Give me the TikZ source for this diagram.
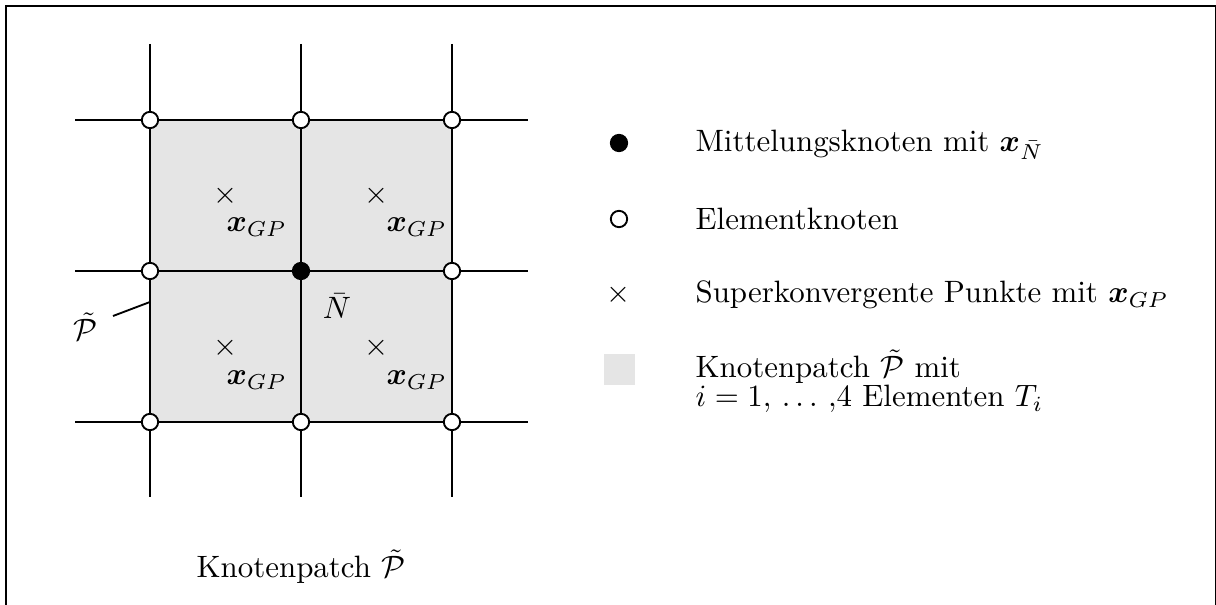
\documentclass[tikz,border=0pt]{standalone}
\usepackage{amsmath,bm}
\begin{document}
\begin{tikzpicture}[x=0.3236pt,y=-0.3236pt,
  gridline/.style={line width=0.6pt},
  enode/.style={circle,draw,fill=white,line width=0.6pt,inner sep=0pt,minimum size=5.3pt},
  mnode/.style={circle,draw,fill=black,line width=0.6pt,inner sep=0pt,minimum size=5.3pt},
  patch/.style={fill=black!10},
  gpmark/.style={inner sep=0pt},
  lbl/.style={inner sep=0pt}
]
\useasboundingbox (0,0) rectangle (1216,605);
% frame
\draw[line width=0.65pt] (6,700) -- (6,6) -- (1216,6) -- (1216,700);

% patch of four elements
\fill[patch] (150,120) rectangle (452,422);

% mesh lines
\foreach \x in {150,301,452} \draw[gridline] (\x,44) -- (\x,497);
\foreach \y in {120,271,422} \draw[gridline] (75,\y) -- (528,\y);

% element nodes
\node[enode] (n11) at (150,120) {};
\node[enode] (n21) at (301,120) {};
\node[enode] (n31) at (452,120) {};
\node[enode] (n12) at (150,271) {};
\node[enode] (n32) at (452,271) {};
\node[enode] (n13) at (150,422) {};
\node[enode] (n23) at (301,422) {};
\node[enode] (n33) at (452,422) {};
% averaging node
\node[mnode] (nbar) at (301,271) {};
\node[lbl,anchor=base] (nbarlbl) at (337,319) {$\bar{N}$};

% superconvergent points
\node[gpmark] (gp1) at (226,196) {$\times$};
\node[gpmark] (gp2) at (377,196) {$\times$};
\node[gpmark] (gp3) at (226,348) {$\times$};
\node[gpmark] (gp4) at (377,348) {$\times$};
\node[lbl,anchor=base west] (gpl1) at (226,232) {$\bm{x}_{GP}$};
\node[lbl,anchor=base west] (gpl2) at (386,232) {$\bm{x}_{GP}$};
\node[lbl,anchor=base west] (gpl3) at (226,385) {$\bm{x}_{GP}$};
\node[lbl,anchor=base west] (gpl4) at (386,385) {$\bm{x}_{GP}$};

% patch label with pointer
\node[lbl,anchor=base] (plbl) at (86,341) {$\tilde{\mathcal{P}}$};
\coordinate (ps) at (113,316);
\coordinate (pe) at (150,302);
\draw[gridline] (ps) -- (pe);

% caption
\node[lbl,anchor=base] (cap) at (301,578) {Knotenpatch $\tilde{\mathcal{P}}$};

% legend
\node[mnode] (lm) at (619,143) {};
\node[enode] (le) at (619,219) {};
\node[gpmark] (lx) at (619,295) {$\times$};
\node[patch,inner sep=0pt,minimum size=10pt] (lp) at (619.5,369.5) {};
\node[lbl,anchor=base west] (tm) at (695,152) {Mittelungsknoten mit $\bm{x}_{\bar{N}}$};
\node[lbl,anchor=base west] (te) at (695,230) {Elementknoten};
\node[lbl,anchor=base west] (tx) at (695,303) {Superkonvergente Punkte mit $\bm{x}_{GP}$};
\node[lbl,anchor=base west] (tp1) at (695,378) {Knotenpatch $\tilde{\mathcal{P}}$ mit};
\node[lbl,anchor=base west] (tp2) at (695,407) {$i = 1,$ $\ldots$ $,$4 Elementen $T_i$};
\end{tikzpicture}
\end{document}
